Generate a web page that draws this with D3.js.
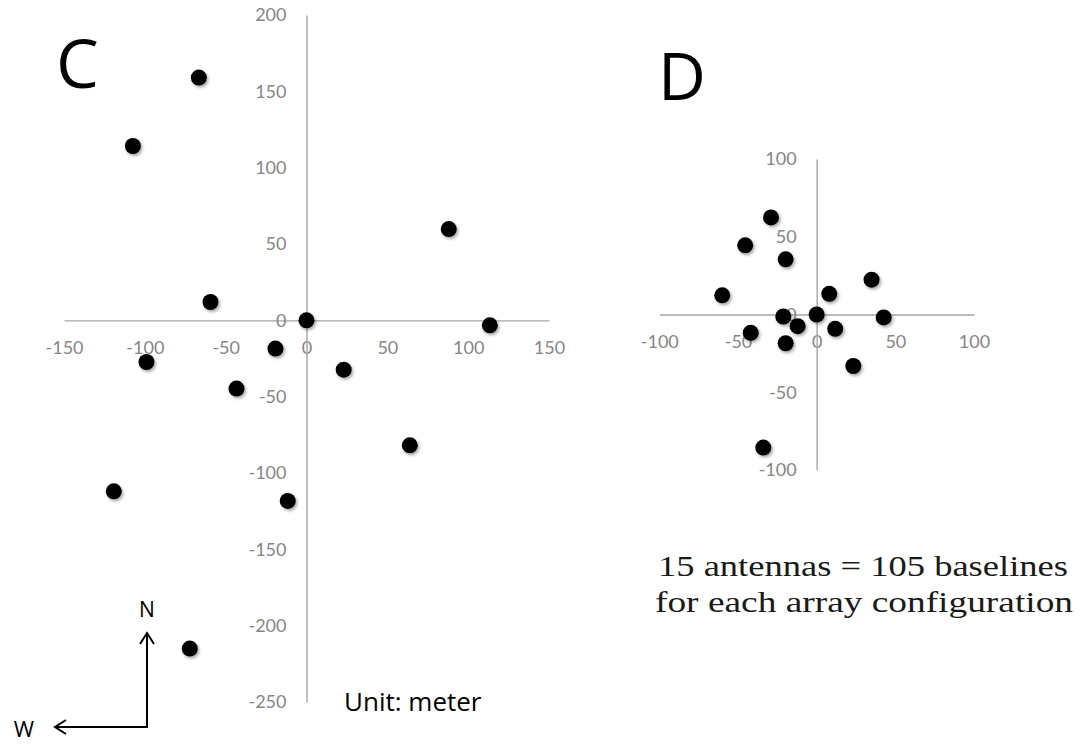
<!DOCTYPE html>
<html>
<head>
<meta charset="utf-8">
<script src="https://cdn.jsdelivr.net/npm/d3@7"></script>
<style>
  body { margin: 0; background: #fff; }
  svg { display: block; }
</style>
</head>
<body>
<div id="chart"></div>
<script>
// Array C antenna positions (meters)
const cX = [-66.6, -107.4, -59.4, 0, -19.2, -99, -43.3, -119.2, -11.6, -72.2, 88, 113.4, 23, 63.9];
const cY = [159, 114.2, 12, 0, -18.5, -27.3, -44.7, -112, -118.3, -215, 59.8, -3.3, -32.3, -81.9];
const cTicksX = [-150, -100, -50, 0, 50, 100, 150];
const cTicksY = [200, 150, 100, 50, 0, -50, -100, -150, -200, -250];

// Array D antenna positions (meters)
const dX = [-29, -45.4, -19.7, 34.9, -60, 8, -21.2, 0, 42.6, -12.1, -41.9, 11.8, -19.7, 23.3, -33.9];
const dY = [62.4, 44.5, 35.5, 22.4, 12.3, 13.3, -1.3, 0, -1.9, -7.5, -11.8, -9.2, -18.5, -33.1, -85.6];
const dTicks = [-100, -50, 0, 50, 100];

const svg = d3.select("#chart")
    .append("svg")
    .attr("width", 1084)
    .attr("height", 744);

// soft shadow under the dots
const filter = svg.append("defs").append("filter")
    .attr("id", "shadow")
    .attr("x", "-50%").attr("y", "-50%")
    .attr("width", "200%").attr("height", "200%");
filter.append("feDropShadow")
    .attr("dx", 1.5).attr("dy", 2)
    .attr("stdDeviation", 1.4)
    .attr("flood-color", "#000")
    .attr("flood-opacity", 0.35);

function drawPanel(xs, ys, xDomain, yDomain, xRange, yRange, xTicks, yTicks) {
    const x = d3.scaleLinear().domain(xDomain).range(xRange);
    const y = d3.scaleLinear().domain(yDomain).range(yRange);

    const g = svg.append("g");
    const fmt = d => String(d); // plain hyphen minus like the original

    const xAxis = g.append("g")
        .attr("transform", `translate(0,${y(0)})`)
        .call(d3.axisBottom(x).tickValues(xTicks).tickFormat(fmt).tickSize(0).tickPadding(21));

    const yAxis = g.append("g")
        .attr("transform", `translate(${x(0)},0)`)
        .call(d3.axisLeft(y).tickValues(yTicks).tickFormat(fmt).tickSize(0).tickPadding(20));

    [xAxis, yAxis].forEach(a => {
        a.attr("font-size", 18).attr("font-family", "Lato, 'Open Sans', sans-serif");
        a.select(".domain").attr("stroke", "#a6a6a6").attr("stroke-width", 1.4);
        a.selectAll("text").attr("fill", "#868686");
    });

    const pts = xs.map((v, i) => ({ x: v, y: ys[i] }));
    g.selectAll("circle")
        .data(pts)
        .enter()
        .append("circle")
        .attr("cx", d => x(d.x))
        .attr("cy", d => y(d.y))
        .attr("r", 8)
        .attr("fill", "#000")
        .attr("filter", "url(#shadow)");
}

drawPanel(cX, cY, [-150, 150], [-250, 200], [64, 549], [702, 15], cTicksX, cTicksY);
drawPanel(dX, dY, [-100, 100], [-100, 100], [659.3, 974], [470, 159], dTicks, dTicks);

// panel letters
svg.append("text")
    .attr("x", 56).attr("y", 88)
    .attr("font-family", "'Open Sans', sans-serif")
    .attr("font-size", 68)
    .attr("fill", "#000")
    .text("C");

svg.append("text")
    .attr("x", 658).attr("y", 100)
    .attr("font-family", "'Open Sans', sans-serif")
    .attr("font-size", 66)
    .attr("fill", "#000")
    .text("D");

svg.append("text")
    .attr("x", 344).attr("y", 711)
    .attr("font-family", "'Open Sans', sans-serif")
    .attr("font-size", 26)
    .attr("fill", "#000")
    .text("Unit: meter");

// compass
const compass = svg.append("g")
    .attr("stroke", "#000")
    .attr("stroke-width", 2)
    .attr("fill", "none");
compass.append("path").attr("d", "M147,633 V727 H55");
compass.append("path").attr("d", "M140,644 L147,633 L154,644");
compass.append("path").attr("d", "M66,720 L55,727 L66,734");

svg.append("text")
    .attr("x", 147).attr("y", 617)
    .attr("text-anchor", "middle")
    .attr("font-family", "'Open Sans', sans-serif")
    .attr("font-size", 21)
    .text("N");

svg.append("text")
    .attr("x", 24).attr("y", 737)
    .attr("text-anchor", "middle")
    .attr("font-family", "'Open Sans', sans-serif")
    .attr("font-size", 22)
    .text("W");

// note
const note = ["15 antennas = 105 baselines", "for each array configuration"];
const noteX = [658, 655];
const noteY = [576, 612];
const noteW = [410, 418];
note.forEach((t, i) => {
    svg.append("text")
        .attr("x", noteX[i]).attr("y", noteY[i])
        .attr("font-family", "'Liberation Serif', 'Times New Roman', serif")
        .attr("font-size", 30)
        .attr("textLength", noteW[i])
        .attr("lengthAdjust", "spacingAndGlyphs")
        .attr("fill", "#1a1a1a")
        .text(t);
});
</script>
</body>
</html>
